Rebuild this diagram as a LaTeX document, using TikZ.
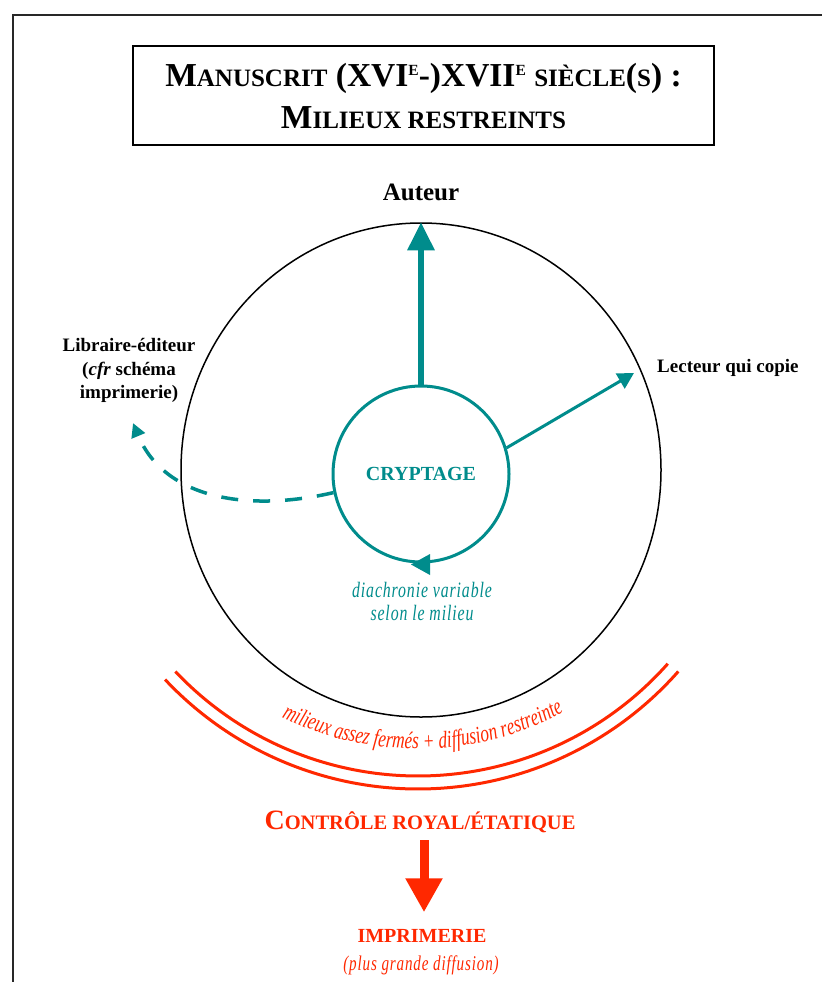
\documentclass[tikz,border=0pt]{standalone}
\usepackage{fontspec}
\setmainfont{Liberation Serif}
\newfontfamily\condit[FakeStretch=0.72,LetterSpace=4]{Liberation Serif}
\newfontfamily\arcit[FakeStretch=0.72]{Liberation Serif}
\usetikzlibrary{arrows.meta,decorations.text,shapes.geometric}
\definecolor{tealc}{RGB}{0,140,140}
\definecolor{redc}{RGB}{255,40,0}
\definecolor{framec}{RGB}{40,40,40}
\newcommand\SmA[1]{{\fontsize{25}{42}\selectfont #1}}
\newcommand\SmB[1]{{\fontsize{20.5}{24}\selectfont #1}}
\newcommand\SupE{\raisebox{11pt}{\fontsize{15.5}{15}\selectfont E}}
\begin{document}
\begin{tikzpicture}[x=1pt,y=1pt,
  lbl/.style={font=\bfseries\fontsize{19}{23.5}\selectfont, align=center, inner sep=0},
  tealarrow/.style={tealc, line width=#1},
  redtext/.style={text=redc, inner sep=0},
  redarc/.style={redc, line width=3}]
\useasboundingbox (0,0) rectangle (822,-982);
\fill[white] (0,0) rectangle (822,-982);
\draw[line width=2.5, framec] (13,-982) -- (13,-15) -- (822,-15);

% title
\node[draw, line width=2.5, minimum width=581, minimum height=99, inner sep=0,
      align=center, font=\bfseries\fontsize{33.5}{42}\selectfont] (title) at (423.5,-95.5)
  {M\SmA{ANUSCRIT} (XVI\SupE-)XVII\SupE{} \SmA{SIÈCLE}(\SmA{S}) :\\ M\SmA{ILIEUX RESTREINTS}};

% circles
\node[ellipse, draw, line width=1.5, minimum width=480, minimum height=494, inner sep=0] (milieu) at (421,-470) {};
\node[circle, draw=tealc, line width=3, minimum size=176, inner sep=0, text=tealc,
      font=\bfseries\fontsize{20}{24}\selectfont] (crypt) at (421,-474) {CRYPTAGE};

% labels
\node[font=\bfseries\fontsize{25}{30}\selectfont, inner sep=0] (auteur) at (421,-192) {Auteur};
\node[lbl, anchor=west] (lecteur) at (657,-368) {Lecteur qui copie};
\node[lbl] (libr) at (129,-370.5) {Libraire-éditeur\\(\textit{cfr} schéma\\imprimerie)};

% arrows
\draw[tealarrow=6, -{Triangle[length=28pt,width=26pt]}] (crypt.north) -- (milieu.north);
\coordinate (lectip) at (634,-373);
\draw[tealarrow=3, -{Triangle[length=16pt,width=17pt]}] (crypt.17) -- (lectip);
\coordinate (libtip) at (133,-423);
\draw[tealarrow=3.5, dash pattern=on 17pt off 15pt, -{Triangle[length=14pt,width=14pt]}]
  (crypt.192) .. controls (250,-512) and (165,-500) .. (libtip);
\fill[tealc] ([xshift=-10pt,yshift=-1pt]crypt.south) -- ++(19,10.5) -- ++(0,-21) -- cycle;

\node[text=tealc, font=\condit\itshape\fontsize{22}{23}\selectfont, align=center] (diach) at (422,-601)
  {diachronie variable\\selon le milieu};

% red arcs
\coordinate (arcc) at (418,-442);
\draw[redarc] ([shift={(223.4:334)}]arcc) arc[start angle=223.4, end angle=318.4, radius=334];
\draw[redarc] ([shift={(223.2:347)}]arcc) arc[start angle=223.2, end angle=318.6, radius=347];
\path[decorate, decoration={text along path, text align=center, text color=redc,
      text={|\arcit\itshape\fontsize{24}{26}\selectfont|milieux assez fermés + diffusion restreinte}}]
  ([shift={(225:307)}]arcc) arc[start angle=225, end angle=317, radius=307];

% bottom
\node[redtext, anchor=base, font=\bfseries\fontsize{28}{32}\selectfont] (ctrl) at (420,-829.5)
  {C\SmB{ONTRÔLE ROYAL/ÉTATIQUE}};
\node[redtext, font=\bfseries\fontsize{20}{24}\selectfont] (impr) at (422,-936) {IMPRIMERIE};
\node[redtext, font=\condit\itshape\fontsize{21}{24}\selectfont] (plus) at (421,-965) {(plus grande diffusion)};
\draw[redc, line width=9, -{Triangle[length=34pt,width=35pt]}, shorten <=7pt, shorten >=17pt]
  ([xshift=4pt]ctrl.south) -- ([xshift=2pt]impr.north);
\end{tikzpicture}
\end{document}
